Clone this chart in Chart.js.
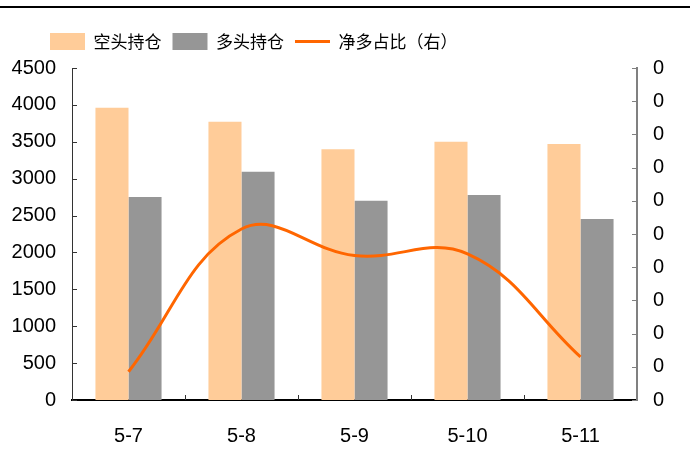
<!DOCTYPE html>
<html>
<head>
<meta charset="utf-8">
<script src="https://cdn.jsdelivr.net/npm/chart.js@4/dist/chart.umd.min.js"></script>
<style>
  html, body { margin: 0; padding: 0; background: #fff; }
  #wrap { width: 690px; height: 462px; }
</style>
</head>
<body>
<div id="wrap"><canvas id="c" width="690" height="462"></canvas></div>
<script>
// Trading days
const categories = ['5-7', '5-8', '5-9', '5-10', '5-11'];
// Short open interest (left axis)
const shortPositions = [3960, 3770, 3400, 3500, 3470];
// Long open interest (left axis)
const longPositions = [2750, 3095, 2700, 2780, 2455];
// Net long share (right axis)
const netLongRatio = [-0.183, -0.097, -0.113, -0.112, -0.174];
// Series names
const seriesNames = ['空头持仓', '多头持仓', '净多占比（右）'];

const numFont = { family: '"Liberation Sans", Arial, sans-serif', size: 20 };
const cjkFont = { family: '"Noto Sans CJK SC", sans-serif', size: 17 };

// Frame: white background, top rule, inward tick marks, legend placement
const frame = {
  id: 'frame',
  beforeInit(chart) {
    const lg = chart.legend;
    const fit = lg.fit;
    lg.fit = function () { fit.call(this); this.height = 68; };
  },
  afterLayout(chart) {
    const lg = chart.legend;
    lg.left = 39;
    lg.top = 22;
  },
  beforeDraw(chart) {
    const ctx = chart.ctx;
    ctx.save();
    ctx.fillStyle = '#fff';
    ctx.fillRect(0, 0, chart.width, chart.height);
    ctx.fillStyle = '#000';
    ctx.fillRect(0, 6, chart.width, 2);
    ctx.restore();
  },
  afterDraw(chart) {
    const { ctx, chartArea: a, scales } = chart;
    const seg = (x1, y1, x2, y2) => { ctx.beginPath(); ctx.moveTo(x1, y1); ctx.lineTo(x2, y2); ctx.stroke(); };
    ctx.save();
    ctx.lineWidth = 1;
    ctx.strokeStyle = '#333';
    scales.y.ticks.forEach((t, i) => {
      const py = Math.round(scales.y.getPixelForTick(i)) + 0.5;
      seg(a.left, py, a.left + 5, py);
    });
    ctx.strokeStyle = '#808080';
    scales.y1.ticks.forEach((t, i) => {
      const py = Math.round(scales.y1.getPixelForTick(i)) + 0.5;
      seg(a.right - 5, py, a.right, py);
    });
    ctx.strokeStyle = '#333';
    for (let i = 1; i < categories.length; i++) {
      const px = Math.round((scales.x.getPixelForValue(i - 1) + scales.x.getPixelForValue(i)) / 2) + 0.5;
      seg(px, a.bottom - 5, px, a.bottom);
    }
    ctx.restore();
  }
};

new Chart(document.getElementById('c'), {
  type: 'bar',
  data: {
    labels: categories,
    datasets: [
      {
        label: seriesNames[0], data: shortPositions, backgroundColor: '#FFCC99',
        yAxisID: 'y', order: 1, categoryPercentage: 0.585, barPercentage: 1
      },
      {
        label: seriesNames[1], data: longPositions, backgroundColor: '#969696',
        yAxisID: 'y', order: 1, categoryPercentage: 0.585, barPercentage: 1
      },
      {
        type: 'line', label: seriesNames[2], data: netLongRatio,
        borderColor: '#FF6600', backgroundColor: '#FF6600', borderWidth: 3,
        pointRadius: 0, tension: 0.4, yAxisID: 'y1', order: 0
      }
    ]
  },
  options: {
    responsive: false,
    animation: false,
    devicePixelRatio: 1,
    layout: { padding: 0 },
    plugins: {
      tooltip: { enabled: false },
      legend: {
        align: 'start',
        labels: {
          usePointStyle: true,
          pointStyleWidth: 35,
          boxHeight: 17,
          padding: 11,
          color: '#000',
          font: cjkFont,
          sort: (a, b) => a.datasetIndex - b.datasetIndex,
          generateLabels(chart) {
            const items = Chart.defaults.plugins.legend.labels.generateLabels(chart);
            return items.map(it => {
              if (it.datasetIndex === 2) {
                it.pointStyle = 'line';
                it.lineWidth = 3;
                it.strokeStyle = '#FF6600';
              } else {
                it.pointStyle = 'rect';
                it.lineWidth = 0;
              }
              return it;
            });
          }
        }
      }
    },
    scales: {
      x: {
        grid: { display: false, drawTicks: false },
        border: { color: '#000', width: 2 },
        ticks: { font: numFont, color: '#000', padding: 24, maxRotation: 0 },
        afterFit(s) { s.height = 62; }
      },
      y: {
        position: 'left', min: 0, max: 4500,
        grid: { display: false, drawTicks: false },
        border: { color: '#333', width: 1 },
        ticks: { stepSize: 500, font: numFont, color: '#000', padding: 16, callback: v => String(v) },
        afterFit(s) { s.width = 72; }
      },
      y1: {
        position: 'right', min: -0.2, max: 0,
        grid: { display: false, drawTicks: false },
        border: { color: '#808080', width: 2 },
        ticks: { stepSize: 0.02, font: numFont, color: '#000', padding: 16, callback: v => String(Math.round(v)) },
        afterFit(s) { s.width = 53; }
      }
    }
  },
  plugins: [frame]
});
</script>
</body>
</html>
